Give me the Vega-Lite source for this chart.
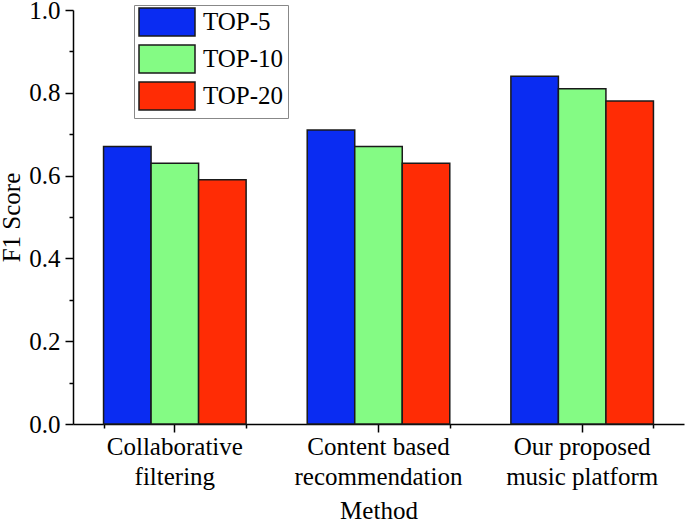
{
  "$schema": "https://vega.github.io/schema/vega-lite/v6.json",
  "width": 611,
  "height": 414,
  "autosize": {"type": "none"},
  "padding": {"left": 73, "top": 10, "right": 1, "bottom": 98},
  "config": {
    "font": "Liberation Serif",
    "view": {"stroke": null},
    "axis": {
      "grid": false,
      "domainColor": "black",
      "domainWidth": 1.5,
      "tickColor": "black",
      "tickWidth": 1.5,
      "labelColor": "black",
      "titleColor": "black",
      "labelFont": "Liberation Serif",
      "titleFont": "Liberation Serif",
      "labelFontSize": 25,
      "titleFontSize": 25,
      "titleFontWeight": "normal"
    },
    "legend": {"labelFont": "Liberation Serif"}
  },
  "data": {
    "values": [
      {"Method": "Collaborative filtering", "Top": "TOP-5", "F1": 0.67},
      {"Method": "Collaborative filtering", "Top": "TOP-10", "F1": 0.63},
      {"Method": "Collaborative filtering", "Top": "TOP-20", "F1": 0.59},
      {"Method": "Content based recommendation", "Top": "TOP-5", "F1": 0.71},
      {"Method": "Content based recommendation", "Top": "TOP-10", "F1": 0.67},
      {"Method": "Content based recommendation", "Top": "TOP-20", "F1": 0.63},
      {"Method": "Our proposed music platform", "Top": "TOP-5", "F1": 0.84},
      {"Method": "Our proposed music platform", "Top": "TOP-10", "F1": 0.81},
      {"Method": "Our proposed music platform", "Top": "TOP-20", "F1": 0.78}
    ]
  },
  "layer": [
    {
      "mark": {"type": "bar", "opacity": 0},
      "encoding": {
        "x": {
          "field": "Method",
          "type": "nominal",
          "sort": null,
          "scale": {"paddingInner": 0.3, "paddingOuter": 0.15},
          "axis": {"orient": "bottom", "tickBand": "extent", "tickSize": 4, "labels": false, "domain": false, "title": null}
        }
      }
    },
    {
      "mark": {"type": "bar", "stroke": "#1a1a1a", "strokeWidth": 1.5},
      "encoding": {
        "x": {
          "field": "Method",
          "type": "nominal",
          "sort": null,
          "scale": {"paddingInner": 0.3, "paddingOuter": 0.15},
          "axis": {
            "orient": "bottom",
            "title": "Method",
            "titlePadding": 9,
            "labelAngle": 0,
            "labelBaseline": "top",
            "labelPadding": 2,
            "labelLineHeight": 30,
            "labelFont": "Liberation Serif",
            "labelFontSize": 25,
            "tickSize": 8,
            "labelExpr": "datum.label == 'Collaborative filtering' ? ['Collaborative', 'filtering'] : datum.label == 'Content based recommendation' ? ['Content based', 'recommendation'] : ['Our proposed', 'music platform']"
          }
        },
        "xOffset": {"field": "Top", "type": "nominal", "sort": ["TOP-5", "TOP-10", "TOP-20"], "scale": {"paddingInner": 0, "paddingOuter": 0}},
        "y": {
          "field": "F1",
          "type": "quantitative",
          "scale": {"domain": [0, 1], "nice": false},
          "axis": {
            "title": "F1 Score",
            "titlePadding": 4,
            "values": [0, 0.1, 0.2, 0.3, 0.4, 0.5, 0.6, 0.7, 0.8, 0.9, 1.0],
            "labelExpr": "round(datum.value * 10) % 2 == 0 ? format(datum.value, '.1f') : ''",
            "labelFont": "Liberation Serif",
            "labelFontSize": 25,
            "tickSize": {"condition": {"test": "round(datum.value * 10) % 2 == 1", "value": 4}, "value": 8},
            "labelPadding": 5
          }
        },
        "color": {
          "field": "Top",
          "type": "nominal",
          "sort": ["TOP-5", "TOP-10", "TOP-20"],
          "scale": {"domain": ["TOP-5", "TOP-10", "TOP-20"], "range": ["#0a2cf2", "#84fb84", "#ff2c05"]},
          "legend": {
            "title": null,
            "orient": "none",
            "legendX": 61,
            "legendY": -5,
            "strokeColor": "#888888",
            "fillColor": "white",
            "padding": 4,
            "symbolType": "M-1,-1.1667H3.6667V1.1667H-1Z",
            "symbolSize": 576,
            "symbolOpacity": 1,
            "symbolStrokeColor": "#1a1a1a",
            "symbolStrokeWidth": 1.5,
            "labelFont": "Liberation Serif",
            "labelFontSize": 25,
            "labelColor": "black",
            "labelOffset": 39,
            "rowPadding": 1
          }
        }
      }
    }
  ],
  "resolve": {"axis": {"x": "independent"}}
}
